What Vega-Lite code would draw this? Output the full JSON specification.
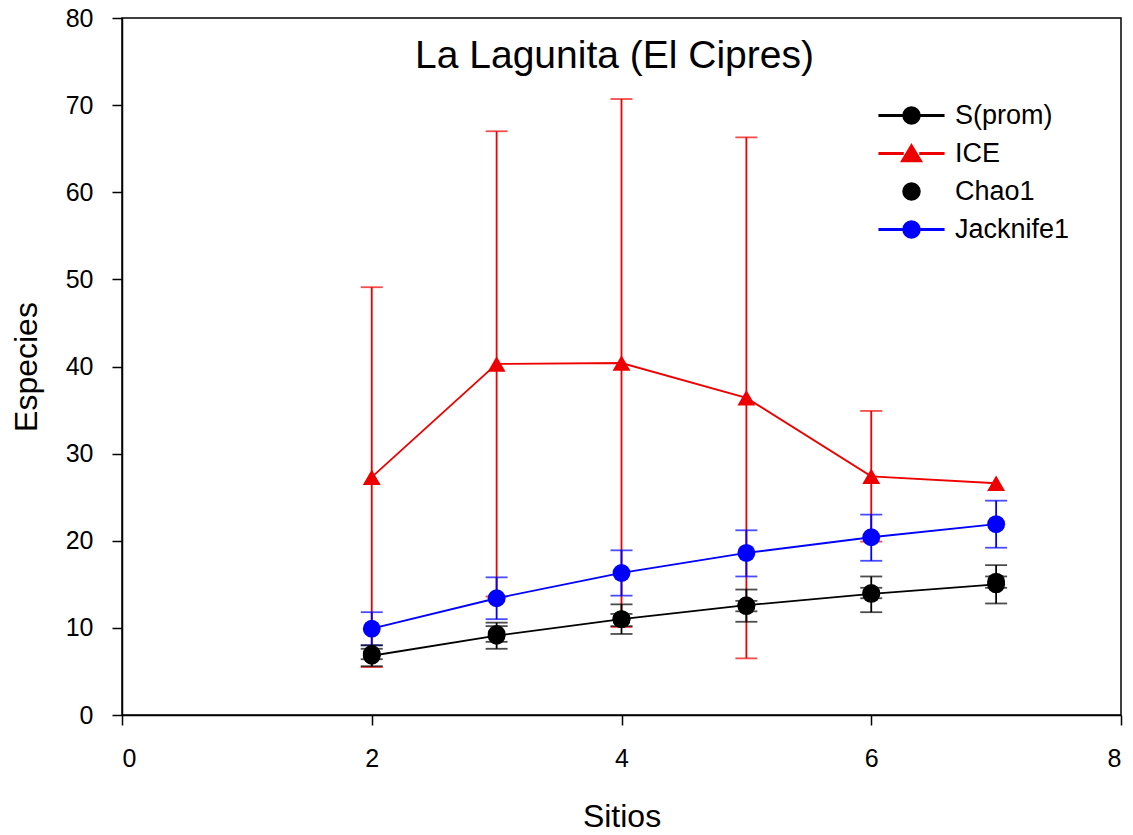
{
  "$schema": "https://vega.github.io/schema/vega-lite/v6.json",
  "width": 999,
  "height": 697,
  "autosize": {"type": "none"},
  "padding": {"left": 122, "top": 18, "right": 12, "bottom": 120},
  "background": "white",
  "title": {
    "text": "La Lagunita (El Cipres)",
    "font": "Liberation Sans",
    "fontSize": 39,
    "fontWeight": "normal",
    "color": "black",
    "anchor": "middle",
    "frame": "group",
    "offset": -70,
    "dx": -7
  },
  "data": {
    "values": [
      {"sitio": 2, "serie": "ICE", "valor": 27.3, "lo": 5.5, "hi": 49.1},
      {"sitio": 3, "serie": "ICE", "valor": 40.3, "lo": 13.6, "hi": 67.0},
      {"sitio": 4, "serie": "ICE", "valor": 40.4, "lo": 10.1, "hi": 70.7},
      {"sitio": 5, "serie": "ICE", "valor": 36.4, "lo": 6.5, "hi": 66.3},
      {"sitio": 6, "serie": "ICE", "valor": 27.4, "lo": 19.9, "hi": 34.9},
      {"sitio": 7, "serie": "ICE", "valor": 26.6, "lo": null, "hi": null},
      {"sitio": 2, "serie": "S(prom)", "valor": 6.8, "lo": 5.6, "hi": 8.0},
      {"sitio": 3, "serie": "S(prom)", "valor": 9.1, "lo": 7.6, "hi": 10.6},
      {"sitio": 4, "serie": "S(prom)", "valor": 11.0, "lo": 9.3, "hi": 12.7},
      {"sitio": 5, "serie": "S(prom)", "valor": 12.6, "lo": 10.7, "hi": 14.4},
      {"sitio": 6, "serie": "S(prom)", "valor": 13.9, "lo": 11.8, "hi": 15.9},
      {"sitio": 7, "serie": "S(prom)", "valor": 15.0, "lo": 12.8, "hi": 17.2},
      {"sitio": 2, "serie": "Chao1", "valor": 7.0, "lo": 6.4, "hi": 7.6},
      {"sitio": 3, "serie": "Chao1", "valor": 9.3, "lo": 8.4, "hi": 10.2},
      {"sitio": 4, "serie": "Chao1", "valor": 11.0, "lo": 10.2, "hi": 11.6},
      {"sitio": 5, "serie": "Chao1", "valor": 12.5, "lo": 11.9, "hi": 13.1},
      {"sitio": 6, "serie": "Chao1", "valor": 14.0, "lo": 13.4, "hi": 14.6},
      {"sitio": 7, "serie": "Chao1", "valor": 15.3, "lo": 14.6, "hi": 15.9},
      {"sitio": 2, "serie": "Jacknife1", "valor": 9.9, "lo": 8.0, "hi": 11.8},
      {"sitio": 3, "serie": "Jacknife1", "valor": 13.4, "lo": 11.0, "hi": 15.8},
      {"sitio": 4, "serie": "Jacknife1", "valor": 16.3, "lo": 13.7, "hi": 18.9},
      {"sitio": 5, "serie": "Jacknife1", "valor": 18.6, "lo": 15.9, "hi": 21.2},
      {"sitio": 6, "serie": "Jacknife1", "valor": 20.4, "lo": 17.7, "hi": 23.0},
      {"sitio": 7, "serie": "Jacknife1", "valor": 21.9, "lo": 19.2, "hi": 24.6}
    ]
  },
  "encoding": {
    "x": {
      "field": "sitio",
      "type": "quantitative",
      "title": "Sitios",
      "scale": {"domain": [0, 8], "nice": false, "zero": false},
      "axis": {
        "values": [0, 2, 4, 6, 8],
        "labelPadding": 21,
        "titlePadding": 30
      }
    },
    "y": {
      "field": "valor",
      "type": "quantitative",
      "title": "Especies",
      "scale": {"domain": [0, 80], "nice": false},
      "axis": {
        "values": [0, 10, 20, 30, 40, 50, 60, 70, 80],
        "labelPadding": 19,
        "titlePadding": 22
      }
    },
    "color": {
      "field": "serie",
      "type": "nominal",
      "scale": {
        "domain": ["S(prom)", "ICE", "Chao1", "Jacknife1"],
        "range": ["#000000", "#ee0000", "#000000", "#0000ff"]
      },
      "legend": {
        "title": null,
        "orient": "none",
        "legendX": 776,
        "legendY": 84,
        "symbolSize": 289,
        "symbolOpacity": 1,
        "labelFont": "Liberation Sans",
        "labelFontSize": 27,
        "labelColor": "black",
        "labelOffset": 30,
        "rowPadding": 10,
        "padding": 0,
        "encode": {
          "symbols": {
            "update": {
              "shape": {"signal": "datum.value === 'ICE' ? 'M-3.8,-0.09H-1V0.09H-3.8ZM1,-0.09H3.8V0.09H1ZM0,-1.05L1.2,0.95H-1.2Z' : datum.value === 'Chao1' ? 'circle' : 'M-3.8,-0.09H3.8V0.09H-3.8ZM1,0C1,0.5523,0.5523,1,0,1C-0.5523,1,-1,0.5523,-1,0C-1,-0.5523,-0.5523,-1,0,-1C0.5523,-1,1,-0.5523,1,0Z'"},
              "opacity": {"value": 1}
            }
          }
        }
      }
    }
  },
  "layer": [
    {
      "transform": [{"filter": "datum.lo != null"}],
      "mark": {"type": "rule", "strokeWidth": 1.8},
      "encoding": {
        "y": {"field": "lo", "type": "quantitative", "title": "Especies"},
        "y2": {"field": "hi"}
      }
    },
    {
      "transform": [{"filter": "datum.lo != null"}],
      "mark": {"type": "tick", "orient": "horizontal", "size": 22, "thickness": 1.8},
      "encoding": {
        "y": {"field": "lo", "type": "quantitative", "title": "Especies"}
      }
    },
    {
      "transform": [{"filter": "datum.hi != null"}],
      "mark": {"type": "tick", "orient": "horizontal", "size": 22, "thickness": 1.8},
      "encoding": {
        "y": {"field": "hi", "type": "quantitative", "title": "Especies"}
      }
    },
    {
      "transform": [{"filter": "datum.serie != 'Chao1'"}],
      "mark": {"type": "line", "strokeWidth": 1.8}
    },
    {
      "transform": [{"filter": "datum.serie != 'ICE'"}],
      "mark": {"type": "point", "shape": "circle", "filled": true, "opacity": 1, "size": 320, "strokeWidth": 0}
    },
    {
      "transform": [{"filter": "datum.serie == 'ICE'"}],
      "mark": {"type": "point", "shape": "triangle-up", "filled": true, "opacity": 1, "size": 320, "strokeWidth": 0}
    }
  ],
  "config": {
    "view": {"stroke": "black", "strokeWidth": 1.5},
    "axis": {
      "grid": false,
      "domainColor": "black",
      "domainWidth": 1.5,
      "tickColor": "black",
      "tickWidth": 1.5,
      "tickSize": 10,
      "labelFont": "Liberation Sans",
      "labelFontSize": 25,
      "labelColor": "black",
      "titleFont": "Liberation Sans",
      "titleFontSize": 32,
      "titleFontWeight": "normal",
      "titleColor": "black"
    },
    "legend": {"labelFont": "Liberation Sans"}
  }
}
